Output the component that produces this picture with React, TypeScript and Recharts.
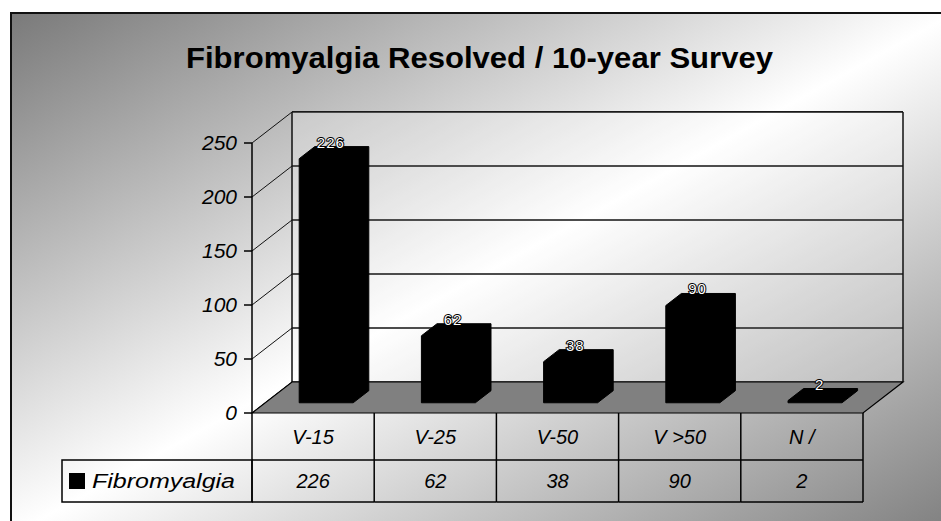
import React from 'react';
import { BarChart, Bar, XAxis, YAxis, CartesianGrid, ReferenceArea } from 'recharts';

const CATEGORIES = ['V-15', 'V-25', 'V-50', 'V >50', 'N /'];
const VALUES = [226, 62, 38, 90, 2];
const Y_TICKS = [0, 50, 100, 150, 200, 250];
const SERIES_NAME = 'Fibromyalgia';
const TITLE = 'Fibromyalgia Resolved / 10-year Survey';

const data = CATEGORIES.map((c, i) => ({ category: c, value: VALUES[i] }));

const W = 941;
const H = 521;
const M = { top: 143, right: 78, bottom: 0, left: 0 };
const YAXIS_W = 252;
const XAXIS_H = 108;
const BAND = (W - M.right - YAXIS_W) / CATEGORIES.length;
const DX = 40;
const DY = -31;
const F1 = 0.33;
const F2 = 0.72;
const ROW1 = 47;
const ROW2 = 42;
const LEGEND_LEFT = 62;
const FONT = '"Liberation Sans", Arial, sans-serif';
const NARROW = '"Liberation Sans Narrow", "Arial Narrow", "Liberation Sans", Arial, sans-serif';

const GridLine = (p: any) => {
  const { x1, x2, y1 } = p;
  return (
    <g key={p.key}>
      <line x1={x1} y1={y1} x2={x1 + DX} y2={y1 + DY} stroke="#111" strokeWidth={1} />
      <line x1={x1 + DX} y1={y1 + DY} x2={x2 + DX} y2={y1 + DY} stroke="#1a1a1a" strokeWidth={2} />
    </g>
  );
};

const Room = (p: any) => {
  const { x, y, width, height } = p;
  const b = y + height;
  const floor = `${x},${b} ${x + width},${b} ${x + width + DX},${b + DY} ${x + DX},${b + DY}`;
  return (
    <g>
      <rect x={x + DX} y={y + DY} width={width} height={height} fill="#fff" fillOpacity={0.22} />
      <line x1={x + DX} y1={y + DY} x2={x + DX} y2={b + DY} stroke="#111" strokeWidth={1.5} />
      <line x1={x + width + DX} y1={y + DY} x2={x + width + DX} y2={b + DY} stroke="#111" strokeWidth={1.5} />
      <polygon points={floor} fill="#808080" stroke="#000" strokeWidth={1.2} />
    </g>
  );
};

const Bar3D = (p: any) => {
  const { x, y, width, height, value } = p;
  const ox = DX * F1;
  const oy = DY * F1;
  const bx = DX * (F2 - F1);
  const by = DY * (F2 - F1);
  const x0 = x + ox;
  const x1 = x0 + width;
  const yt = y + oy;
  const yb = y + height + oy;
  const pts = `${x0},${yb} ${x0},${yt} ${x0 + bx},${yt + by} ${x1 + bx},${yt + by} ${x1 + bx},${yb + by} ${x1},${yb}`;
  return (
    <g>
      <polygon points={pts} fill="#000" stroke="#000" strokeWidth={1} />
      <text
        x={x0 + width / 2 + bx * 0.3}
        y={yt + by + 1}
        textAnchor="middle"
        fontFamily={FONT}
        fontSize={15}
        fill="#fff"
        stroke="#000"
        strokeWidth={2}
        paintOrder="stroke"
        letterSpacing={1}
      >
        {value}
      </text>
    </g>
  );
};

const YTick = (p: any) => {
  const { x, y, payload } = p;
  return (
    <g>
      <line x1={x - 8} y1={y} x2={x} y2={y} stroke="#000" strokeWidth={1.5} />
      <text
        x={x - 15}
        y={y}
        dy={7}
        textAnchor="end"
        fontFamily={FONT}
        fontStyle="italic"
        fontSize={21}
        fill="#000"
      >
        {payload.value}
      </text>
    </g>
  );
};

const TableTick = (p: any) => {
  const { x, y, payload } = p;
  const index = p.index ?? payload.index ?? CATEGORIES.indexOf(payload.value);
  const left = x - BAND / 2;
  const right = x + BAND / 2;
  const r1 = y + ROW1;
  const r2 = r1 + ROW2;
  const stroke = { stroke: '#000', strokeWidth: 1.5 };
  return (
    <g>
      {index === 0 && <line x1={left} y1={y} x2={left} y2={r2} {...stroke} />}
      <line x1={right} y1={y} x2={right} y2={r2} {...stroke} />
      <line x1={left} y1={r1} x2={right} y2={r1} {...stroke} />
      <line x1={left} y1={r2} x2={right} y2={r2} {...stroke} />
      <text x={x} y={y + ROW1 / 2 + 7} textAnchor="middle" fontFamily={FONT} fontStyle="italic" fontSize={20} fill="#000">
        {payload.value}
      </text>
      <text x={x} y={r1 + ROW2 / 2 + 7} textAnchor="middle" fontFamily={FONT} fontStyle="italic" fontSize={20} fill="#000">
        {VALUES[index]}
      </text>
      {index === 0 && (
        <g>
          <rect x={LEGEND_LEFT} y={r1} width={left - LEGEND_LEFT} height={ROW2} fill="none" {...stroke} />
          <rect x={LEGEND_LEFT + 7} y={r1 + 13} width={16} height={16} fill="#000" />
          <text
            x={LEGEND_LEFT + 30}
            y={r1 + ROW2 / 2 + 7}
            fontFamily={FONT}
            fontStyle="italic"
            fontSize={20}
            fill="#000"
            textLength={left - LEGEND_LEFT - 47}
            lengthAdjust="spacingAndGlyphs"
          >
            {SERIES_NAME}
          </text>
        </g>
      )}
    </g>
  );
};

export default function App() {
  return (
    <div style={{ position: 'absolute', left: 0, top: 0, width: W, height: H, overflow: 'hidden', background: '#fff' }}>
      <div
        style={{
          position: 'absolute',
          left: 10,
          top: 12,
          width: W,
          height: H,
          borderTop: '2.5px solid #111',
          borderLeft: '2.5px solid #111',
          background: 'linear-gradient(to bottom right, #7a7a7a 0%, #ffffff 50%, #7e7e7e 100%)',
        }}
      />
      <svg width={W} height={H} style={{ position: 'absolute', left: 0, top: 0 }}>
        <text
          x={479.5}
          y={68}
          textAnchor="middle"
          fontFamily={NARROW}
          fontWeight="bold"
          fontSize={30}
          fill="#000"
          textLength={587}
          lengthAdjust="spacingAndGlyphs"
        >
          {TITLE}
        </text>
      </svg>
      <div style={{ position: 'absolute', left: 0, top: 0 }}>
        <BarChart width={W} height={H} data={data} margin={M} barSize={54}>
          <CartesianGrid horizontal={GridLine as any} vertical={false} />
          <ReferenceArea y1={0} y2={250} shape={Room as any} fill="none" stroke="none" />
          <XAxis
            dataKey="category"
            height={XAXIS_H}
            axisLine={false}
            tickLine={false}
            tickSize={0}
            tickMargin={0}
            interval={0}
            tick={TableTick as any}
          />
          <YAxis
            width={YAXIS_W}
            domain={[0, 250]}
            ticks={Y_TICKS}
            interval={0}
            axisLine={{ stroke: '#000', strokeWidth: 1.5 }}
            tickLine={false}
            tickSize={0}
            tickMargin={0}
            tick={YTick as any}
          />
          <Bar dataKey="value" shape={Bar3D as any} isAnimationActive={false} />
        </BarChart>
      </div>
    </div>
  );
}
